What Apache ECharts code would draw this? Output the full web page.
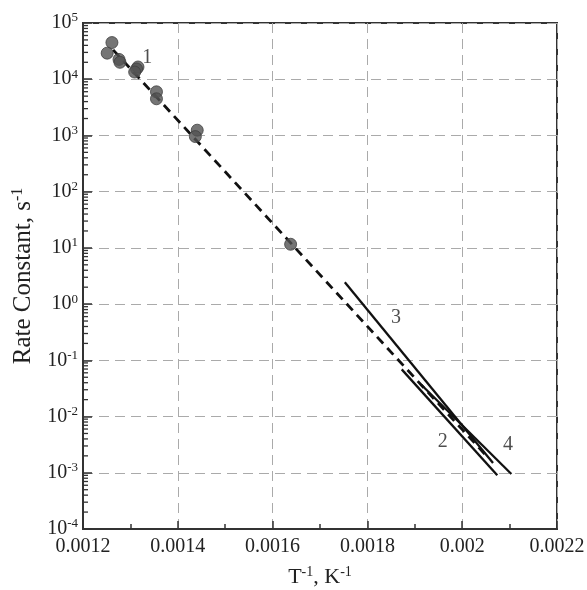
<!DOCTYPE html>
<html>
<head>
<meta charset="utf-8">
<script src="https://cdn.jsdelivr.net/npm/echarts@6/dist/echarts.min.js"></script>
<style>html,body{margin:0;padding:0;background:#fff;}#c{width:587px;height:590px;}</style>
</head>
<body>
<div id="c"></div>
<script>
// ---- data ----
var xTickLabels = ['0.0012', '0.0014', '0.0016', '0.0018', '0.002', '0.0022'];
var yTickExponents = [-4, -3, -2, -1, 0, 1, 2, 3, 4, 5];
// experimental points (T^-1, k)
var points = [
  [0.001261, 44900], [0.001251, 29100], [0.001276, 22500], [0.001278, 20000],
  [0.001316, 16500], [0.001313, 15200], [0.001309, 13400],
  [0.001355, 5970], [0.001355, 4490],
  [0.001441, 1240], [0.001437, 955],
  [0.001638, 11.6]
];
// line 1 (dashed fit)
var line1 = [[0.0012635, 33300], [0.002050, 0.00205]];
// lines 2, 3, 4 (solid)
var line2 = [[0.0018724, 0.069], [0.002074, 0.000904]];
var line3 = [[0.0017524, 2.45], [0.002065, 0.00149]];
var line4 = [[0.0019132, 0.0371], [0.0021037, 0.000953]];
// curve labels
var curveLabels = [
  [0.0013354, 24100, '1'],
  [0.0018603, 0.566, '3'],
  [0.0019591, 0.0035, '2'],
  [0.0020968, 0.0031, '4']
];

var FONT = '"Liberation Serif", "Times New Roman", serif';
var chart = echarts.init(document.getElementById('c'));

function lineSeries(d, dashed) {
  return {
    type: 'line', data: d, symbol: 'none', silent: true, z: 3,
    lineStyle: dashed ? {color: '#111', width: 2.8, type: [9, 6]} : {color: '#111', width: 2.3}
  };
}

chart.setOption({
  animation: false,
  grid: {left: 83, top: 23, right: 30, bottom: 61, containLabel: false, outerBoundsMode: 'none',
    show: true, borderColor: '#333', borderWidth: 2, backgroundColor: 'transparent'},
  xAxis: {
    type: 'value', min: 0.0012, max: 0.0022, interval: 0.0002,
    name: '{a|T}{s|-1}{a|, K}{s|-1}', nameLocation: 'middle', nameGap: 36,
    nameTextStyle: {rich: {
      a: {fontFamily: FONT, fontSize: 22, color: '#222'},
      s: {fontFamily: FONT, fontSize: 14, color: '#222', verticalAlign: 'bottom', padding: [0, 0, 10, 0]}
    }},
    axisLine: {show: true, onZero: false, lineStyle: {color: '#333', width: 2}},
    axisTick: {show: true, inside: true, length: 8, lineStyle: {color: '#333', width: 1.5}},
    minorTick: {show: true, splitNumber: 2, length: 5, lineStyle: {color: '#333', width: 1.5}},
    axisLabel: {
      fontFamily: FONT, fontSize: 20, color: '#222', margin: 8,
      formatter: function (v) {
        var i = Math.round((v - 0.0012) / 0.0002);
        return xTickLabels[i] !== undefined ? xTickLabels[i] : '';
      }
    },
    splitLine: {show: true, lineStyle: {color: '#aaa', width: 1, type: [10, 6]}}
  },
  yAxis: {
    type: 'log', logBase: 10, min: 1e-4, max: 1e5, interval: 1,
    name: '{a|Rate Constant, s}{s|-1}', nameLocation: 'middle', nameGap: 35, nameRotate: 90,
    nameTextStyle: {rich: {
      a: {fontFamily: FONT, fontSize: 25, color: '#222'},
      s: {fontFamily: FONT, fontSize: 16, color: '#222', verticalAlign: 'bottom', padding: [0, 0, 12, 0]}
    }},
    axisLine: {show: true, lineStyle: {color: '#333', width: 2}},
    axisTick: {show: true, inside: true, length: 9, lineStyle: {color: '#333', width: 1.5}},
    axisLabel: {
      margin: 5,
      formatter: function (v) {
        var e = Math.round(Math.log10(v));
        if (yTickExponents.indexOf(e) < 0) return '';
        return '{b|10}{s|' + e + '}';
      },
      rich: {
        b: {fontFamily: FONT, fontSize: 20, color: '#222'},
        s: {fontFamily: FONT, fontSize: 13, color: '#222', verticalAlign: 'bottom', padding: [0, 0, 10, 0]}
      }
    },
    splitLine: {show: true, lineStyle: {color: '#aaa', width: 1, type: [10, 6]}}
  },
  series: [
    // log minor ticks on y axis (2..9 per decade)
    {
      type: 'custom', silent: true, z: 5, data: [[0.0012, 1]],
      renderItem: function (params, api) {
        var children = [];
        for (var e = -4; e < 5; e++) {
          for (var m = 2; m <= 9; m++) {
            var p = api.coord([0.0012, m * Math.pow(10, e)]);
            children.push({type: 'line', shape: {x1: p[0], y1: p[1], x2: p[0] + 5, y2: p[1]},
              style: {stroke: '#333', lineWidth: 1.3}});
          }
        }
        return {type: 'group', children: children};
      }
    },
    lineSeries(line1, true),
    lineSeries(line2, false),
    lineSeries(line3, false),
    lineSeries(line4, false),
    {
      type: 'scatter', data: points, symbol: 'circle', symbolSize: 12, z: 4,
      itemStyle: {color: '#525252', borderColor: '#404040', borderWidth: 1}
    },
    {
      type: 'scatter', data: curveLabels, symbolSize: 0, silent: true, z: 6,
      label: {show: true, position: 'inside', formatter: function (p) { return p.data[2]; },
        fontFamily: FONT, fontSize: 20, color: '#222'}
    }
  ]
});
</script>
</body>
</html>
